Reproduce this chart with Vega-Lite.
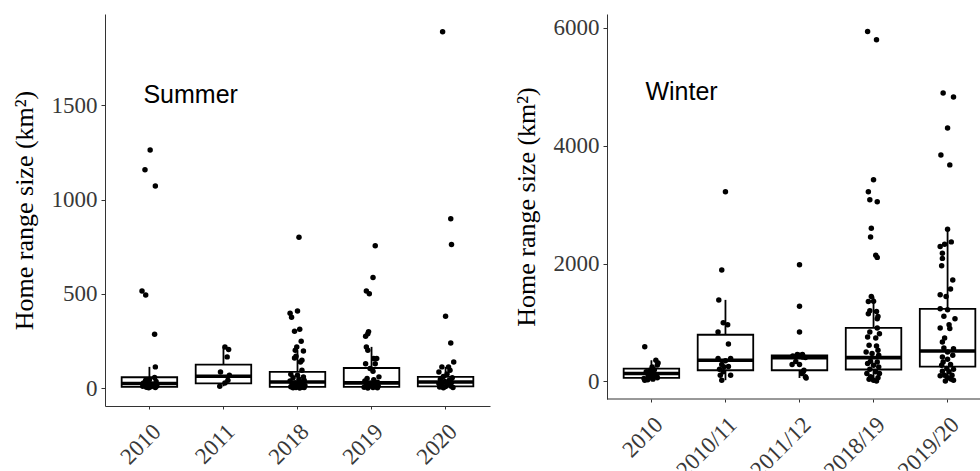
{
  "$schema": "https://vega.github.io/schema/vega-lite/v6.json",
  "padding": {"left": 11, "top": 14, "right": 0, "bottom": 0},
  "background": "white",
  "spacing": 23,
  "config": {
    "view": {"stroke": null},
    "axis": {
      "grid": false,
      "domainColor": "#333333",
      "tickColor": "#333333",
      "labelFont": "Liberation Serif",
      "labelFontSize": 23,
      "labelColor": "#383838",
      "titleFont": "Liberation Serif",
      "titleFontSize": 26,
      "titleFontWeight": "normal",
      "titleColor": "#000000"
    },
    "axisX": {"tickSize": 3, "labelPadding": 11},
    "axisY": {"tickSize": 4, "labelPadding": 4}
  },
  "datasets": {
    "summerBox": [
      {"period": "2010", "lower": 2, "q1": 7, "median": 25, "q3": 58, "upper": 113},
      {"period": "2011", "lower": 10, "q1": 25, "median": 63, "q3": 125, "upper": 219},
      {"period": "2018", "lower": 1, "q1": 7, "median": 33, "q3": 86, "upper": 201},
      {"period": "2019", "lower": 1, "q1": 7, "median": 28, "q3": 107, "upper": 219},
      {"period": "2020", "lower": 2, "q1": 10, "median": 33, "q3": 60, "upper": 113}
    ],
    "winterBox": [
      {"period": "2010", "lower": 22, "q1": 62, "median": 135, "q3": 219, "upper": 360},
      {"period": "2010/11", "lower": 22, "q1": 191, "median": 360, "q3": 793, "upper": 1384},
      {"period": "2011/12", "lower": 60, "q1": 191, "median": 405, "q3": 444, "upper": 456},
      {"period": "2018/19", "lower": 10, "q1": 203, "median": 405, "q3": 911, "upper": 1440},
      {"period": "2019/20", "lower": 10, "q1": 253, "median": 518, "q3": 1232, "upper": 2582}
    ],
    "summerPts": [
      {"period": "2010", "km2": 1263, "jx": 0.01}, {"period": "2010", "km2": 1159, "jx": -0.06}, {"period": "2010", "km2": 1072, "jx": 0.08},
      {"period": "2010", "km2": 515, "jx": -0.10}, {"period": "2010", "km2": 494, "jx": -0.05}, {"period": "2010", "km2": 286, "jx": 0.07},
      {"period": "2010", "km2": 113, "jx": 0.08}, {"period": "2010", "km2": 57, "jx": 0.07}, {"period": "2010", "km2": 46, "jx": 0.0},
      {"period": "2010", "km2": 42, "jx": -0.05}, {"period": "2010", "km2": 35, "jx": 0.09}, {"period": "2010", "km2": 28, "jx": -0.08},
      {"period": "2010", "km2": 22, "jx": 0.03}, {"period": "2010", "km2": 18, "jx": -0.02}, {"period": "2010", "km2": 14, "jx": 0.06},
      {"period": "2010", "km2": 10, "jx": -0.09}, {"period": "2010", "km2": 7, "jx": 0.02}, {"period": "2010", "km2": 5, "jx": -0.04},
      {"period": "2010", "km2": 3, "jx": 0.08}, {"period": "2010", "km2": 2, "jx": -0.01}, {"period": "2010", "km2": 12, "jx": 0.1},
      {"period": "2011", "km2": 219, "jx": 0.02}, {"period": "2011", "km2": 205, "jx": 0.07}, {"period": "2011", "km2": 166, "jx": 0.05},
      {"period": "2011", "km2": 86, "jx": -0.04}, {"period": "2011", "km2": 69, "jx": 0.08}, {"period": "2011", "km2": 42, "jx": 0.06},
      {"period": "2011", "km2": 28, "jx": 0.02}, {"period": "2011", "km2": 10, "jx": -0.05},
      {"period": "2018", "km2": 801, "jx": 0.02}, {"period": "2018", "km2": 409, "jx": 0.0}, {"period": "2018", "km2": 398, "jx": -0.10},
      {"period": "2018", "km2": 376, "jx": -0.08}, {"period": "2018", "km2": 312, "jx": 0.03}, {"period": "2018", "km2": 302, "jx": -0.04},
      {"period": "2018", "km2": 249, "jx": 0.05}, {"period": "2018", "km2": 219, "jx": -0.01}, {"period": "2018", "km2": 201, "jx": -0.03},
      {"period": "2018", "km2": 197, "jx": 0.08}, {"period": "2018", "km2": 169, "jx": -0.02}, {"period": "2018", "km2": 160, "jx": -0.04},
      {"period": "2018", "km2": 148, "jx": 0.06}, {"period": "2018", "km2": 139, "jx": 0.04}, {"period": "2018", "km2": 95, "jx": 0.06},
      {"period": "2018", "km2": 74, "jx": -0.09}, {"period": "2018", "km2": 69, "jx": 0.0}, {"period": "2018", "km2": 60, "jx": 0.08},
      {"period": "2018", "km2": 55, "jx": -0.06}, {"period": "2018", "km2": 48, "jx": 0.02}, {"period": "2018", "km2": 42, "jx": 0.09},
      {"period": "2018", "km2": 38, "jx": -0.1}, {"period": "2018", "km2": 33, "jx": 0.05}, {"period": "2018", "km2": 28, "jx": -0.03},
      {"period": "2018", "km2": 24, "jx": 0.07}, {"period": "2018", "km2": 20, "jx": -0.07}, {"period": "2018", "km2": 17, "jx": 0.01},
      {"period": "2018", "km2": 14, "jx": 0.1}, {"period": "2018", "km2": 11, "jx": -0.05}, {"period": "2018", "km2": 9, "jx": 0.04},
      {"period": "2018", "km2": 7, "jx": -0.09}, {"period": "2018", "km2": 5, "jx": 0.06}, {"period": "2018", "km2": 4, "jx": -0.02},
      {"period": "2018", "km2": 3, "jx": 0.09}, {"period": "2018", "km2": 2, "jx": -0.06}, {"period": "2018", "km2": 1, "jx": 0.03},
      {"period": "2019", "km2": 755, "jx": 0.05}, {"period": "2019", "km2": 587, "jx": 0.02}, {"period": "2019", "km2": 515, "jx": -0.07},
      {"period": "2019", "km2": 501, "jx": -0.03}, {"period": "2019", "km2": 300, "jx": -0.04}, {"period": "2019", "km2": 289, "jx": -0.05},
      {"period": "2019", "km2": 275, "jx": -0.08}, {"period": "2019", "km2": 219, "jx": -0.07}, {"period": "2019", "km2": 201, "jx": -0.05},
      {"period": "2019", "km2": 157, "jx": 0.03}, {"period": "2019", "km2": 157, "jx": 0.07}, {"period": "2019", "km2": 130, "jx": -0.08},
      {"period": "2019", "km2": 130, "jx": 0.05}, {"period": "2019", "km2": 104, "jx": -0.02}, {"period": "2019", "km2": 90, "jx": 0.02},
      {"period": "2019", "km2": 60, "jx": 0.1}, {"period": "2019", "km2": 52, "jx": -0.06}, {"period": "2019", "km2": 45, "jx": 0.03},
      {"period": "2019", "km2": 38, "jx": -0.09}, {"period": "2019", "km2": 32, "jx": 0.08}, {"period": "2019", "km2": 27, "jx": -0.02},
      {"period": "2019", "km2": 22, "jx": 0.05}, {"period": "2019", "km2": 18, "jx": -0.07}, {"period": "2019", "km2": 15, "jx": 0.0},
      {"period": "2019", "km2": 12, "jx": 0.09}, {"period": "2019", "km2": 9, "jx": -0.04}, {"period": "2019", "km2": 7, "jx": 0.06},
      {"period": "2019", "km2": 5, "jx": -0.1}, {"period": "2019", "km2": 3, "jx": 0.02}, {"period": "2019", "km2": 2, "jx": 0.08},
      {"period": "2019", "km2": 1, "jx": -0.05},
      {"period": "2020", "km2": 1890, "jx": -0.04}, {"period": "2020", "km2": 898, "jx": 0.07}, {"period": "2020", "km2": 762, "jx": 0.08},
      {"period": "2020", "km2": 381, "jx": 0.0}, {"period": "2020", "km2": 240, "jx": 0.07}, {"period": "2020", "km2": 139, "jx": 0.11},
      {"period": "2020", "km2": 113, "jx": -0.05}, {"period": "2020", "km2": 113, "jx": 0.04}, {"period": "2020", "km2": 95, "jx": 0.06},
      {"period": "2020", "km2": 86, "jx": -0.09}, {"period": "2020", "km2": 75, "jx": 0.02}, {"period": "2020", "km2": 62, "jx": -0.03},
      {"period": "2020", "km2": 55, "jx": 0.09}, {"period": "2020", "km2": 48, "jx": -0.07}, {"period": "2020", "km2": 42, "jx": 0.05},
      {"period": "2020", "km2": 36, "jx": -0.01}, {"period": "2020", "km2": 30, "jx": 0.08}, {"period": "2020", "km2": 25, "jx": -0.09},
      {"period": "2020", "km2": 20, "jx": 0.03}, {"period": "2020", "km2": 16, "jx": -0.05}, {"period": "2020", "km2": 12, "jx": 0.07},
      {"period": "2020", "km2": 9, "jx": 0.0}, {"period": "2020", "km2": 6, "jx": -0.08}, {"period": "2020", "km2": 4, "jx": 0.1},
      {"period": "2020", "km2": 2, "jx": -0.03}
    ],
    "winterPts": [
      {"period": "2010", "km2": 590, "jx": -0.09}, {"period": "2010", "km2": 360, "jx": 0.06}, {"period": "2010", "km2": 315, "jx": 0.09},
      {"period": "2010", "km2": 280, "jx": 0.08}, {"period": "2010", "km2": 248, "jx": 0.01}, {"period": "2010", "km2": 200, "jx": 0.04},
      {"period": "2010", "km2": 191, "jx": -0.02}, {"period": "2010", "km2": 164, "jx": -0.07}, {"period": "2010", "km2": 150, "jx": 0.0},
      {"period": "2010", "km2": 130, "jx": -0.05}, {"period": "2010", "km2": 120, "jx": 0.03}, {"period": "2010", "km2": 106, "jx": 0.07},
      {"period": "2010", "km2": 100, "jx": -0.02}, {"period": "2010", "km2": 90, "jx": 0.05}, {"period": "2010", "km2": 79, "jx": -0.04},
      {"period": "2010", "km2": 70, "jx": 0.0}, {"period": "2010", "km2": 62, "jx": 0.08}, {"period": "2010", "km2": 51, "jx": -0.10},
      {"period": "2010", "km2": 40, "jx": 0.02}, {"period": "2010", "km2": 30, "jx": -0.05}, {"period": "2010", "km2": 22, "jx": -0.09},
      {"period": "2010/11", "km2": 3218, "jx": 0.0}, {"period": "2010/11", "km2": 1890, "jx": -0.05}, {"period": "2010/11", "km2": 1384, "jx": -0.09},
      {"period": "2010/11", "km2": 996, "jx": -0.03}, {"period": "2010/11", "km2": 962, "jx": 0.03}, {"period": "2010/11", "km2": 839, "jx": -0.10},
      {"period": "2010/11", "km2": 636, "jx": 0.04}, {"period": "2010/11", "km2": 388, "jx": -0.10}, {"period": "2010/11", "km2": 388, "jx": 0.07},
      {"period": "2010/11", "km2": 350, "jx": 0.0}, {"period": "2010/11", "km2": 287, "jx": -0.05}, {"period": "2010/11", "km2": 253, "jx": 0.04},
      {"period": "2010/11", "km2": 248, "jx": -0.02}, {"period": "2010/11", "km2": 208, "jx": -0.08}, {"period": "2010/11", "km2": 164, "jx": -0.03},
      {"period": "2010/11", "km2": 106, "jx": 0.07}, {"period": "2010/11", "km2": 106, "jx": -0.07}, {"period": "2010/11", "km2": 22, "jx": -0.05},
      {"period": "2011/12", "km2": 1980, "jx": 0.0}, {"period": "2011/12", "km2": 1277, "jx": 0.0}, {"period": "2011/12", "km2": 838, "jx": 0.0},
      {"period": "2011/12", "km2": 456, "jx": -0.03}, {"period": "2011/12", "km2": 456, "jx": 0.04}, {"period": "2011/12", "km2": 444, "jx": 0.0},
      {"period": "2011/12", "km2": 433, "jx": -0.09}, {"period": "2011/12", "km2": 417, "jx": 0.04}, {"period": "2011/12", "km2": 405, "jx": 0.08},
      {"period": "2011/12", "km2": 338, "jx": -0.05}, {"period": "2011/12", "km2": 287, "jx": -0.1}, {"period": "2011/12", "km2": 287, "jx": 0.0},
      {"period": "2011/12", "km2": 191, "jx": 0.06}, {"period": "2011/12", "km2": 164, "jx": 0.05}, {"period": "2011/12", "km2": 135, "jx": 0.03},
      {"period": "2011/12", "km2": 79, "jx": 0.08}, {"period": "2011/12", "km2": 60, "jx": 0.09},
      {"period": "2018/19", "km2": 5936, "jx": -0.08}, {"period": "2018/19", "km2": 5795, "jx": 0.04}, {"period": "2018/19", "km2": 3421, "jx": 0.0},
      {"period": "2018/19", "km2": 3218, "jx": -0.07}, {"period": "2018/19", "km2": 3084, "jx": -0.05}, {"period": "2018/19", "km2": 3050, "jx": 0.05},
      {"period": "2018/19", "km2": 2599, "jx": -0.03}, {"period": "2018/19", "km2": 2452, "jx": -0.04}, {"period": "2018/19", "km2": 2143, "jx": 0.03},
      {"period": "2018/19", "km2": 2105, "jx": 0.05}, {"period": "2018/19", "km2": 1440, "jx": -0.03}, {"period": "2018/19", "km2": 1355, "jx": -0.07},
      {"period": "2018/19", "km2": 1360, "jx": 0.0}, {"period": "2018/19", "km2": 1200, "jx": -0.05}, {"period": "2018/19", "km2": 1187, "jx": 0.04},
      {"period": "2018/19", "km2": 1148, "jx": -0.07}, {"period": "2018/19", "km2": 1102, "jx": 0.06}, {"period": "2018/19", "km2": 1063, "jx": 0.05},
      {"period": "2018/19", "km2": 906, "jx": 0.05}, {"period": "2018/19", "km2": 838, "jx": -0.05}, {"period": "2018/19", "km2": 810, "jx": 0.08},
      {"period": "2018/19", "km2": 754, "jx": -0.08}, {"period": "2018/19", "km2": 737, "jx": 0.03}, {"period": "2018/19", "km2": 613, "jx": -0.06},
      {"period": "2018/19", "km2": 602, "jx": 0.04}, {"period": "2018/19", "km2": 529, "jx": 0.06}, {"period": "2018/19", "km2": 501, "jx": -0.1},
      {"period": "2018/19", "km2": 473, "jx": -0.02}, {"period": "2018/19", "km2": 444, "jx": 0.07}, {"period": "2018/19", "km2": 343, "jx": -0.04},
      {"period": "2018/19", "km2": 332, "jx": 0.05}, {"period": "2018/19", "km2": 304, "jx": -0.08}, {"period": "2018/19", "km2": 276, "jx": 0.0},
      {"period": "2018/19", "km2": 248, "jx": 0.07}, {"period": "2018/19", "km2": 208, "jx": -0.05}, {"period": "2018/19", "km2": 164, "jx": 0.03},
      {"period": "2018/19", "km2": 135, "jx": -0.09}, {"period": "2018/19", "km2": 135, "jx": 0.08}, {"period": "2018/19", "km2": 79, "jx": -0.04},
      {"period": "2018/19", "km2": 62, "jx": 0.06}, {"period": "2018/19", "km2": 39, "jx": -0.06}, {"period": "2018/19", "km2": 22, "jx": 0.0},
      {"period": "2018/19", "km2": 10, "jx": 0.04},
      {"period": "2019/20", "km2": 4895, "jx": -0.06}, {"period": "2019/20", "km2": 4827, "jx": 0.08}, {"period": "2019/20", "km2": 4298, "jx": 0.0},
      {"period": "2019/20", "km2": 3843, "jx": -0.09}, {"period": "2019/20", "km2": 3674, "jx": 0.03}, {"period": "2019/20", "km2": 2582, "jx": 0.0},
      {"period": "2019/20", "km2": 2368, "jx": 0.05}, {"period": "2019/20", "km2": 2329, "jx": -0.04}, {"period": "2019/20", "km2": 2290, "jx": -0.10},
      {"period": "2019/20", "km2": 2177, "jx": -0.07}, {"period": "2019/20", "km2": 2088, "jx": -0.07}, {"period": "2019/20", "km2": 1963, "jx": -0.08},
      {"period": "2019/20", "km2": 1722, "jx": 0.07}, {"period": "2019/20", "km2": 1570, "jx": 0.04}, {"period": "2019/20", "km2": 1473, "jx": -0.1},
      {"period": "2019/20", "km2": 1440, "jx": -0.02}, {"period": "2019/20", "km2": 1232, "jx": -0.1}, {"period": "2019/20", "km2": 1215, "jx": 0.0},
      {"period": "2019/20", "km2": 1108, "jx": -0.05}, {"period": "2019/20", "km2": 1063, "jx": 0.1}, {"period": "2019/20", "km2": 962, "jx": 0.02},
      {"period": "2019/20", "km2": 906, "jx": -0.1}, {"period": "2019/20", "km2": 900, "jx": 0.03}, {"period": "2019/20", "km2": 737, "jx": -0.04},
      {"period": "2019/20", "km2": 670, "jx": -0.07}, {"period": "2019/20", "km2": 568, "jx": -0.05}, {"period": "2019/20", "km2": 557, "jx": 0.08},
      {"period": "2019/20", "km2": 500, "jx": 0.0}, {"period": "2019/20", "km2": 444, "jx": 0.07}, {"period": "2019/20", "km2": 417, "jx": -0.07},
      {"period": "2019/20", "km2": 376, "jx": 0.0}, {"period": "2019/20", "km2": 332, "jx": -0.06}, {"period": "2019/20", "km2": 287, "jx": 0.04},
      {"period": "2019/20", "km2": 276, "jx": -0.08}, {"period": "2019/20", "km2": 219, "jx": -0.01}, {"period": "2019/20", "km2": 208, "jx": 0.08},
      {"period": "2019/20", "km2": 174, "jx": -0.07}, {"period": "2019/20", "km2": 164, "jx": 0.02}, {"period": "2019/20", "km2": 106, "jx": -0.04},
      {"period": "2019/20", "km2": 106, "jx": 0.06}, {"period": "2019/20", "km2": 96, "jx": -0.1}, {"period": "2019/20", "km2": 62, "jx": 0.0},
      {"period": "2019/20", "km2": 40, "jx": 0.05}, {"period": "2019/20", "km2": 22, "jx": 0.08}, {"period": "2019/20", "km2": 10, "jx": -0.03}
    ],
    "one": [{}]
  },
  "hconcat": [
    {
      "width": 385,
      "height": 392,
      "resolve": {"scale": {"xOffset": "independent"}},
      "layer": [
        {
          "data": {"name": "summerBox"},
          "mark": {"type": "rule", "color": "#000000", "strokeWidth": 1.8},
          "encoding": {
            "x": {"field": "period", "type": "nominal", "sort": ["2010", "2011", "2018", "2019", "2020"],
                  "scale": {"domain": ["2010", "2011", "2018", "2019", "2020"], "paddingInner": 0, "paddingOuter": 0.1},
                  "axis": {"title": null, "labelAngle": -45}},
            "y": {"field": "lower", "type": "quantitative",
                  "scale": {"domain": [-94.5, 1984.5], "nice": false, "zero": false},
                  "axis": {"title": "Home range size (km²)", "values": [0, 500, 1000, 1500], "format": "d", "titlePadding": 14}},
            "y2": {"field": "upper"}
          }
        },
        {
          "data": {"name": "summerBox"},
          "mark": {"type": "bar", "fill": "#ffffff", "stroke": "#000000", "strokeWidth": 1.8, "width": {"band": 0.75}},
          "encoding": {
            "x": {"field": "period", "type": "nominal"},
            "y": {"field": "q1", "type": "quantitative"},
            "y2": {"field": "q3"}
          }
        },
        {
          "data": {"name": "summerBox"},
          "mark": {"type": "bar", "fill": "#000000", "stroke": "#000000", "strokeWidth": 3.6, "width": {"band": 0.75}},
          "encoding": {
            "x": {"field": "period", "type": "nominal"},
            "y": {"field": "median", "type": "quantitative"},
            "y2": {"field": "median"}
          }
        },
        {
          "data": {"name": "summerPts"},
          "mark": {"type": "point", "filled": true, "color": "#000000", "opacity": 1, "size": 30},
          "encoding": {
            "x": {"field": "period", "type": "nominal"},
            "xOffset": {"field": "jx", "type": "quantitative", "scale": {"domain": [-0.5, 0.5]}},
            "y": {"field": "km2", "type": "quantitative"}
          }
        },
        {
          "data": {"name": "one"},
          "mark": {"type": "text", "text": "Summer", "font": "Liberation Sans", "fontSize": 25, "align": "left", "baseline": "alphabetic", "color": "#000000", "dx": -6},
          "encoding": {
            "x": {"datum": "2010", "type": "nominal"},
            "y": {"datum": 1515, "type": "quantitative"}
          }
        }
      ]
    },
    {
      "width": 374,
      "height": 385,
      "resolve": {"scale": {"xOffset": "independent"}},
      "layer": [
        {
          "data": {"name": "winterBox"},
          "mark": {"type": "rule", "color": "#000000", "strokeWidth": 1.8},
          "encoding": {
            "x": {"field": "period", "type": "nominal", "sort": ["2010", "2010/11", "2011/12", "2018/19", "2019/20"],
                  "scale": {"domain": ["2010", "2010/11", "2011/12", "2018/19", "2019/20"], "paddingInner": 0, "paddingOuter": 0.1, "range": [0, 385]},
                  "axis": {"title": null, "labelAngle": -45, "domain": false}},
            "y": {"field": "lower", "type": "quantitative",
                  "scale": {"domain": [-297, 6233], "nice": false, "zero": false},
                  "axis": {"title": "Home range size (km²)", "values": [0, 2000, 4000, 6000], "format": "d", "titlePadding": 14}},
            "y2": {"field": "upper"}
          }
        },
        {
          "data": {"name": "winterBox"},
          "mark": {"type": "bar", "fill": "#ffffff", "stroke": "#000000", "strokeWidth": 1.8, "width": {"band": 0.75}},
          "encoding": {
            "x": {"field": "period", "type": "nominal"},
            "y": {"field": "q1", "type": "quantitative"},
            "y2": {"field": "q3"}
          }
        },
        {
          "data": {"name": "winterBox"},
          "mark": {"type": "bar", "fill": "#000000", "stroke": "#000000", "strokeWidth": 3.6, "width": {"band": 0.75}},
          "encoding": {
            "x": {"field": "period", "type": "nominal"},
            "y": {"field": "median", "type": "quantitative"},
            "y2": {"field": "median"}
          }
        },
        {
          "data": {"name": "winterPts"},
          "mark": {"type": "point", "filled": true, "color": "#000000", "opacity": 1, "size": 30},
          "encoding": {
            "x": {"field": "period", "type": "nominal"},
            "xOffset": {"field": "jx", "type": "quantitative", "scale": {"domain": [-0.5, 0.5]}},
            "y": {"field": "km2", "type": "quantitative"}
          }
        },
        {
          "data": {"name": "one"},
          "mark": {"type": "text", "text": "Winter", "font": "Liberation Sans", "fontSize": 25, "align": "left", "baseline": "alphabetic", "color": "#000000", "dx": -6},
          "encoding": {
            "x": {"datum": "2010", "type": "nominal"},
            "y": {"datum": 4776, "type": "quantitative"}
          }
        },
        {
          "data": {"name": "one"},
          "mark": {"type": "rule", "color": "#333333", "strokeWidth": 1},
          "encoding": {
            "y": {"datum": -297, "type": "quantitative"}
          }
        }
      ]
    }
  ]
}
